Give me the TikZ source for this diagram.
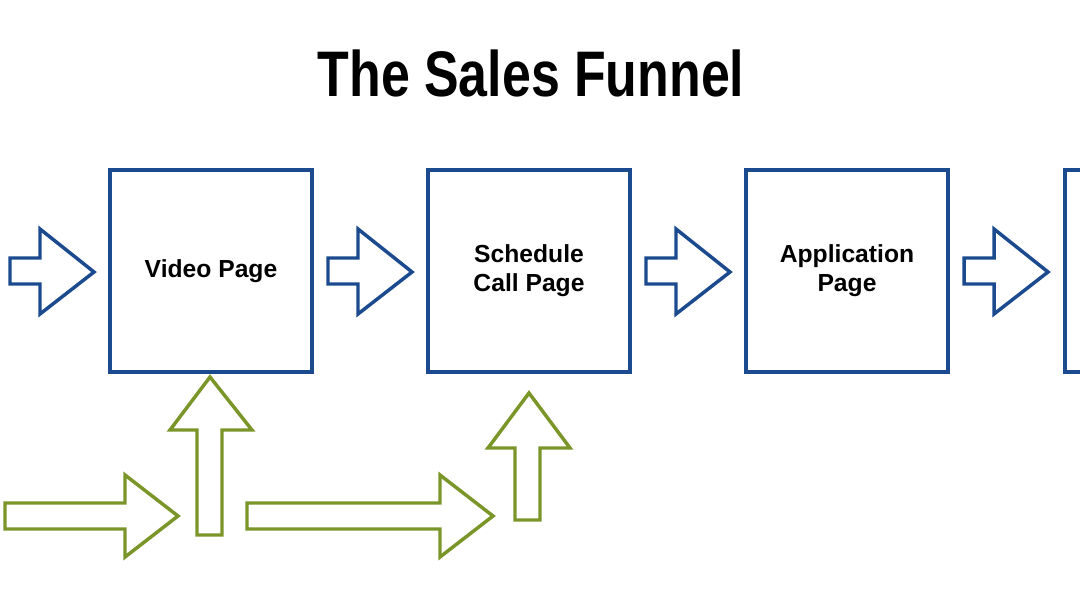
\documentclass[tikz,border=0pt]{standalone}
\usepackage{fontspec}
\setmainfont{Liberation Sans}
\begin{document}
\begin{tikzpicture}[x=0.75pt,y=-0.75pt,
  page/.style={draw=boxblue,line width=2.8pt,fill=white,minimum width=151pt,minimum height=151pt,inner sep=0pt,align=center,font=\fontsize{18.5}{22}\selectfont\bfseries},
  barrow/.style={draw=boxblue,line width=2.6pt,fill=white,line join=miter},
  garrow/.style={draw=grn,line width=2.6pt,fill=white,line join=miter}]
\definecolor{boxblue}{HTML}{1B4A8E}
\definecolor{grn}{HTML}{7A9628}
\useasboundingbox (0,0) rectangle (1080,606);
\fill[white] (0,0) rectangle (1080,606);
\node (title) at (531,73) {\resizebox{320pt}{35pt}{\bfseries The Sales Funnel}};
\node[page] (b1) at (211,271) {Video Page};
\node[page] (b2) at (529,271) {Schedule\\Call Page};
\node[page] (b3) at (847,271) {Application\\Page};
\node[page,anchor=west] (b4) at (1063,271) {\phantom{X}};
\foreach \o in {0,318,636,954}{
  \draw[barrow] (10+\o,258) -- (40+\o,258) -- (40+\o,229) -- (94+\o,272) -- (40+\o,314) -- (40+\o,284) -- (10+\o,284) -- cycle;
}
\draw[garrow] (197,535) -- (197,430) -- (170,430) -- (210,377) -- (252,430) -- (222,430) -- (222,535) -- cycle;
\draw[garrow] (515,520) -- (515,448) -- (488,448) -- (529,393) -- (570,448) -- (540,448) -- (540,520) -- cycle;
\draw[garrow] (5,503) -- (125,503) -- (125,475) -- (178,516) -- (125,557) -- (125,529) -- (5,529) -- cycle;
\draw[garrow] (247,503) -- (440,503) -- (440,475) -- (493,516) -- (440,557) -- (440,529) -- (247,529) -- cycle;
\end{tikzpicture}
\end{document}
